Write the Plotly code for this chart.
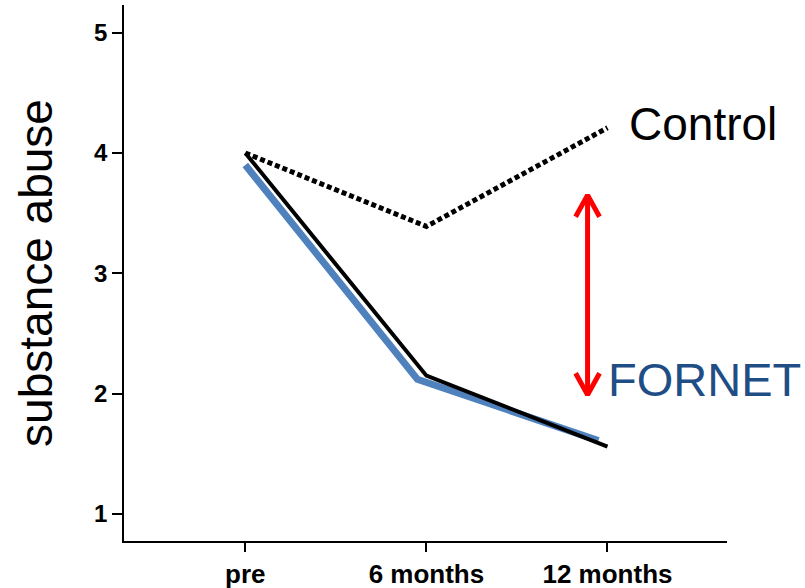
import plotly.graph_objects as go

# ---- data ----
time_labels = ["pre", "6 months", "12 months"]
time_pos = [0, 1, 2]

control_values = [4.0, 3.39, 4.21]
fornet_black_values = [4.0, 2.15, 1.56]
fornet_blue_pos = [0.0, 0.95, 1.95]
fornet_blue_values = [3.9, 2.12, 1.61]

y_ticks = [1, 2, 3, 4, 5]

arrow_x = 1.89
arrow_top = 3.65
arrow_bottom = 1.99
arrow_head_dx = 0.066
arrow_head_dy = 0.18

fig = go.Figure()

fig.add_trace(go.Scatter(
    x=time_pos, y=control_values, mode="lines",
    line=dict(color="black", width=5, dash="5px,3px"),
    cliponaxis=False, showlegend=False, hoverinfo="skip"))

fig.add_trace(go.Scatter(
    x=fornet_blue_pos, y=fornet_blue_values, mode="lines",
    line=dict(color="#4F81BD", width=7),
    cliponaxis=False, showlegend=False, hoverinfo="skip"))

fig.add_trace(go.Scatter(
    x=time_pos, y=fornet_black_values, mode="lines",
    line=dict(color="black", width=4),
    cliponaxis=False, showlegend=False, hoverinfo="skip"))

# double-headed red arrow
ax = [arrow_x - arrow_head_dx, arrow_x, arrow_x + arrow_head_dx, None,
      arrow_x, arrow_x, None,
      arrow_x - arrow_head_dx, arrow_x, arrow_x + arrow_head_dx]
ay = [arrow_top - arrow_head_dy, arrow_top, arrow_top - arrow_head_dy, None,
      arrow_top, arrow_bottom, None,
      arrow_bottom + arrow_head_dy, arrow_bottom, arrow_bottom + arrow_head_dy]
fig.add_trace(go.Scatter(
    x=ax, y=ay, mode="lines",
    line=dict(color="#FF0000", width=5),
    cliponaxis=False, showlegend=False, hoverinfo="skip"))

fig.add_annotation(x=2.11, y=4.24, text="Control", showarrow=False,
                   xanchor="left", yanchor="middle",
                   font=dict(family="Liberation Sans, Arial", size=46, color="black"))
fig.add_annotation(x=1.99, y=2.12, text="FORNET", showarrow=False,
                   xanchor="left", yanchor="middle",
                   font=dict(family="Liberation Sans, Arial", size=47, color="#1F4E86"))

fig.update_layout(
    width=805, height=588,
    margin=dict(l=124, r=78, t=5, b=47),
    plot_bgcolor="white", paper_bgcolor="white",
    font=dict(family="Liberation Sans, Arial", color="black"),
)

fig.update_xaxes(
    range=[-0.67, 2.66], tickvals=time_pos, ticktext=time_labels,
    showgrid=False, zeroline=False, automargin=False,
    showline=True, linecolor="black", linewidth=1.5,
    ticks="outside", ticklen=9, tickwidth=1.5, tickcolor="black",
    tickfont=dict(family="Liberation Sans, Arial", size=26, color="black", weight="bold"),
)
fig.update_yaxes(
    range=[0.776, 5.23], tickvals=y_ticks,
    showgrid=False, zeroline=False, automargin=False,
    showline=True, linecolor="black", linewidth=1.5,
    ticks="outside", ticklen=10, tickwidth=1.5, tickcolor="black",
    tickfont=dict(family="Liberation Sans, Arial", size=24, color="black", weight="bold"),
    title=dict(text="substance abuse", standoff=27,
               font=dict(family="Liberation Sans, Arial", size=46, color="black")),
)

fig.write_html("out.html", config={"displayModeBar": False},
               post_script="document.body.style.margin='0';")
